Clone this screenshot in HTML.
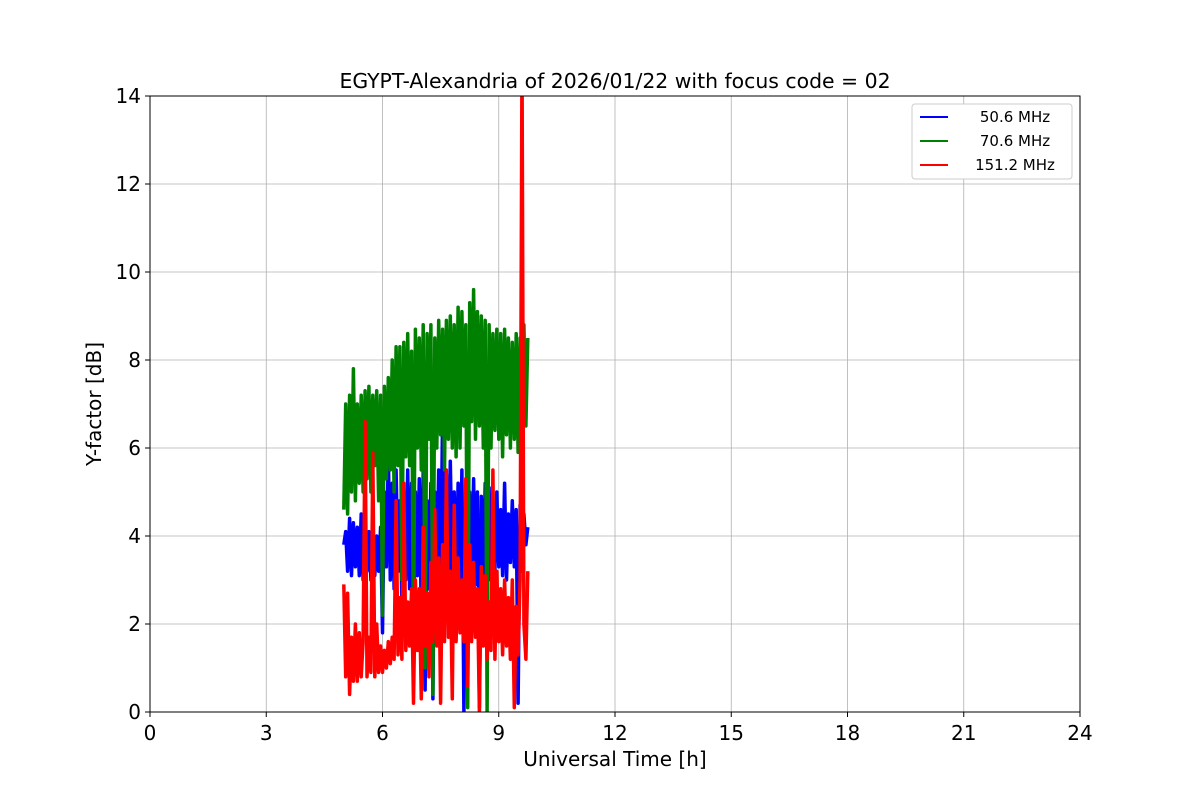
<!DOCTYPE html>
<html><head><meta charset="utf-8"><style>
body{margin:0;background:#fff}
svg text{font-family:"DejaVu Sans","Liberation Sans",sans-serif}
</style></head><body>
<svg id="chart" width="1200" height="800" xmlns="http://www.w3.org/2000/svg">
<defs><clipPath id="clip"><rect x="150" y="96" width="930" height="616"/></clipPath></defs>
<rect width="1200" height="800" fill="#fff"/>
<text x="615" y="88" font-size="20.4" text-anchor="middle">EGYPT-Alexandria of 2026/01/22 with focus code = 02</text>
<g id="grid"></g>
<g id="series" clip-path="url(#clip)"></g>
<rect x="150" y="96" width="930" height="616" fill="none" stroke="#000" stroke-width="1"/>
<g id="ticks"></g>
<text x="615" y="766" font-size="20" text-anchor="middle">Universal Time [h]</text>
<text transform="translate(101,404) rotate(-90)" font-size="20" text-anchor="middle">Y-factor [dB]</text>
<g id="legend">
<rect x="912" y="104" width="160" height="75" rx="3" fill="#fff" stroke="#ccc"/>
</g>
</svg>
<script>
const xTicks=[0,3,6,9,12,15,18,21,24];
const yTicks=[0,2,4,6,8,10,12,14];
const seriesNames=["50.6 MHz","70.6 MHz","151.2 MHz"];
const seriesColors=["blue","green","red"];
const tStart=5.0, tStep=0.05;
const blue=[3.8,4.1,3.2,4.4,3.1,4.3,3.3,4.2,3.1,4.5,3.0,4.2,3.2,4.1,3.0,4.3,3.1,4.0,3.2,4.2,1.8,5.0,3.3,5.9,3.0,5.2,2.8,5.5,3.2,4.8,2.5,5.0,3.0,5.5,2.8,5.2,1.4,5.0,3.1,5.3,2.2,5.5,0.5,4.8,2.8,5.2,0.3,5.0,3.2,5.5,2.6,6.8,3.0,5.4,2.7,5.7,3.1,5.0,2.8,5.2,3.0,5.5,0.0,4.8,3.2,5.0,2.8,5.3,2.9,5.0,0.1,4.9,3.0,5.2,3.1,5.1,3.0,4.8,3.2,5.0,3.3,4.6,3.1,5.2,3.0,4.5,3.4,4.8,3.3,4.6,0.2,4.7,3.2,4.5,3.8,4.2];
const green=[4.6,7.0,4.5,7.2,5.0,7.8,4.8,7.0,5.2,7.2,5.0,7.3,5.3,7.4,5.0,7.2,5.6,7.3,4.8,7.2,2.2,7.4,5.3,7.6,5.5,8.0,5.0,8.3,5.6,8.3,3.0,8.4,5.8,8.6,5.6,8.2,1.5,8.7,6.0,8.5,5.5,8.8,1.0,8.6,6.2,8.8,0.4,8.5,6.0,8.9,6.3,8.7,5.5,8.9,6.2,9.0,6.0,8.8,5.8,9.2,6.0,9.1,6.5,8.8,0.1,9.3,6.6,9.6,6.2,9.1,6.5,9.0,6.0,8.9,0.0,8.8,6.0,8.6,6.4,8.7,6.2,8.6,5.8,8.7,6.3,8.5,6.0,8.4,6.2,8.6,5.9,8.5,6.1,8.8,6.5,8.5];
const red=[2.9,0.8,2.7,0.4,1.7,0.7,2.0,0.7,1.8,0.8,1.6,6.6,0.8,1.7,0.9,5.9,0.8,2.0,0.9,1.5,0.9,1.4,1.0,1.6,1.1,1.7,1.2,4.8,1.3,2.6,1.2,5.2,1.4,2.5,1.5,2.8,0.2,3.0,1.4,2.8,0.3,4.2,1.5,2.7,0.8,3.4,1.6,4.6,1.5,3.5,0.2,3.8,1.6,5.5,1.7,3.2,0.3,4.7,1.6,3.5,1.8,3.0,1.6,5.3,0.6,3.8,1.6,3.4,1.7,2.8,0.0,3.3,1.5,3.1,1.2,2.5,1.4,5.5,1.2,3.2,1.6,2.8,1.3,3.0,1.5,2.6,1.2,3.0,0.1,2.4,1.3,3.0,15,2.0,1.2,3.2];
const NS="http://www.w3.org/2000/svg";
const X0=150,X1=1080,Y0=712,Y1=96;
function xs(t){return X0+(t/24)*(X1-X0);}
function ys(v){return Y0-(v/14)*(Y0-Y1);}
function mk(tag,attrs,parent){const e=document.createElementNS(NS,tag);for(const k in attrs)e.setAttribute(k,attrs[k]);parent.appendChild(e);return e;}
const grid=document.getElementById('grid'),ticks=document.getElementById('ticks');
xTicks.forEach(t=>{
 const l=mk('line',{x1:xs(t),x2:xs(t),y1:Y1,y2:Y0,stroke:'#b0b0b0','stroke-width':0.8},grid);
 
 
 mk('line',{x1:xs(t),x2:xs(t),y1:Y0,y2:Y0+5,stroke:'#000'},ticks);
 const tx=mk('text',{x:xs(t),y:Y0+28,'font-size':20,'text-anchor':'middle'},ticks);
 tx.textContent=t;
 
 
});
yTicks.forEach(v=>{
 const l=mk('line',{x1:X0,x2:X1,y1:ys(v),y2:ys(v),stroke:'#b0b0b0','stroke-width':0.8},grid);
 
 
 mk('line',{x1:X0-5,x2:X0,y1:ys(v),y2:ys(v),stroke:'#000'},ticks);
 const tx=mk('text',{x:X0-9,y:ys(v)+7,'font-size':20,'text-anchor':'end'},ticks);
 tx.textContent=v;
 
 
});
const sg=document.getElementById('series');
[blue,green,red].forEach((arr,i)=>{
 const pts=arr.map((v,j)=>xs(tStart+j*tStep).toFixed(1)+','+ys(v).toFixed(1)).join(' ');
 const p=mk('polyline',{points:pts,fill:'none',stroke:seriesColors[i],'stroke-width':3.5,'stroke-linejoin':'round'},sg);
 
 
});
const lg=document.getElementById('legend');
seriesNames.forEach((n,i)=>{
 const y=117+i*24;
 mk('line',{x1:920,x2:948,y1:y,y2:y,stroke:seriesColors[i],'stroke-width':2},lg);
 const t=mk('text',{x:1015,y:y+5,'font-size':15,'text-anchor':'middle'},lg);
 t.textContent=n;
 
 
});
</script>
</body></html>
